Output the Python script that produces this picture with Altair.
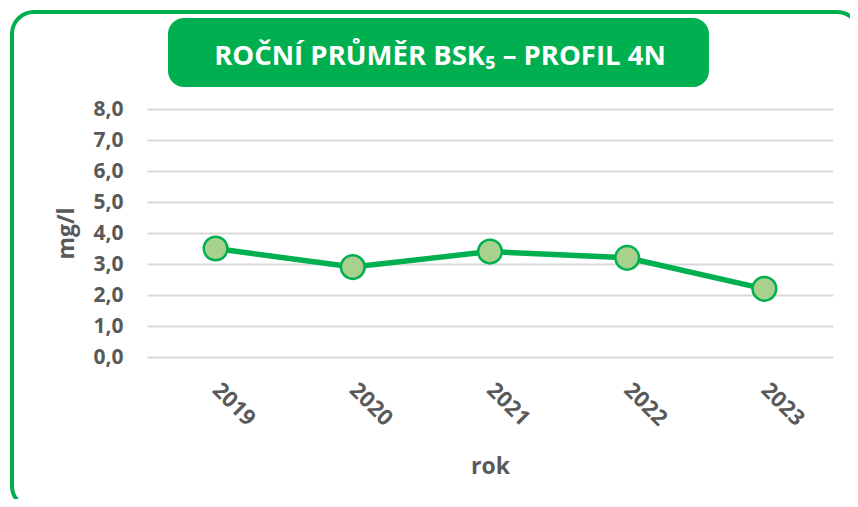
import altair as alt
import pandas as pd

years = ["2019", "2020", "2021", "2022", "2023"]
values = [3.5, 2.9, 3.4, 3.2, 2.2]
y_ticks = [0, 1, 2, 3, 4, 5, 6, 7, 8]
title_text = "ROČNÍ PRŮMĚR BSK₅ – PROFIL 4N"
x_title = "rok"
y_title = "mg/l"

GREEN = "#00B050"
LIGHT = "#A9D18E"
GRAY = "#595959"
FONT = "Open Sans"

df = pd.DataFrame({"rok": years, "val": values})
one = alt.Data(values=[{"a": 1}])

x_enc = alt.X("rok:O", title=x_title,
              axis=alt.Axis(labelAngle=45, labelAlign="left", labelBaseline="middle",
                            labelPadding=29, labelFontSize=22, labelFont=FONT,
                            labelFontWeight="bold", labelColor=GRAY, labelOverlap=False,
                            titleFontSize=23, titleFont=FONT, titleFontWeight="bold",
                            titleColor=GRAY, titlePadding=26, domain=False, ticks=False,
                            grid=False),
              scale=alt.Scale(paddingInner=0, paddingOuter=0.5))
y_enc = alt.Y("val:Q", title=y_title,
              scale=alt.Scale(domain=[0, 8]),
              axis=alt.Axis(values=y_ticks,
                            labelExpr="replace(format(datum.value, '.1f'), '.', ',')",
                            labelFontSize=21, labelFont=FONT, labelFontWeight="bold",
                            labelColor=GRAY, labelPadding=24, labelOverlap=False,
                            titleFontSize=23, titleFont=FONT, titleFontWeight="bold",
                            titleColor=GRAY, titlePadding=14,
                            domain=False, ticks=False,
                            gridColor="#D9D9D9", gridWidth=2))

base = alt.Chart(df).encode(x=x_enc, y=y_enc)
line = base.mark_line(color=GREEN, strokeWidth=5.5)
pts = base.mark_circle(size=560, fill=LIGHT, stroke=GREEN, strokeWidth=2.5, opacity=1)

border = alt.Chart(one).mark_rect(fill=None, stroke=GREEN, strokeWidth=4, cornerRadius=22).encode(
    x=alt.value(-135), x2=alt.value(712), y=alt.value(-97), y2=alt.value(399))
tbox = alt.Chart(one).mark_rect(fill=GREEN, cornerRadius=16).encode(
    x=alt.value(21), x2=alt.value(562), y=alt.value(-91), y2=alt.value(-22))
ttext = alt.Chart(one).mark_text(text=title_text, color="white", font=FONT, fontWeight="bold",
                                 fontSize=27.5, align="center", baseline="middle").encode(
    x=alt.value(293), y=alt.value(-52))

chart = alt.layer(border, tbox, ttext, line, pts).properties(
    width=686, height=248,
    autosize=alt.AutoSizeParams(type="none"),
    padding={"left": 139, "top": 101, "right": 17, "bottom": 142},
).configure_view(stroke=None)

chart.save("out.html", embed_options={"renderer": "svg", "actions": False})
